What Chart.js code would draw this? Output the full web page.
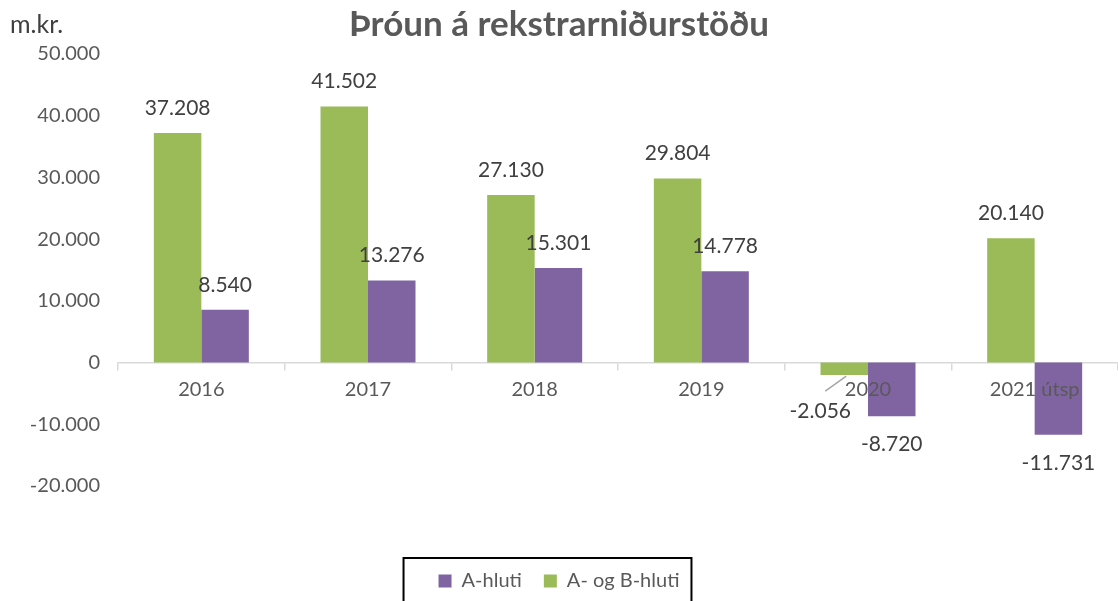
<!DOCTYPE html>
<html>
<head>
<meta charset="utf-8">
<script src="https://cdn.jsdelivr.net/npm/chart.js@4.4.0/dist/chart.umd.min.js"></script>
<style>
  html, body { margin: 0; padding: 0; background: #fff; }
  #wrap { width: 1118px; height: 601px; position: relative; }
</style>
</head>
<body>
<div id="wrap"><canvas id="myChart"></canvas></div>
<script>
const years = ['2016', '2017', '2018', '2019', '2020', '2021 útsp'];
const abHluti = [37208, 41502, 27130, 29804, -2056, 20140];
const aHluti = [8540, 13276, 15301, 14778, -8720, -11731];
const yTicks = [-20000, -10000, 0, 10000, 20000, 30000, 40000, 50000];

const FONT = 'Lato, "Open Sans", sans-serif';

function fmt(v) {
  const s = Math.abs(v).toString().replace(/\B(?=(\d{3})+(?!\d))/g, '.');
  return (v < 0 ? '-' : '') + s;
}

// values above / below each bar
const valueLabels = {
  id: 'valueLabels',
  afterDraw(chart) {
    const ctx = chart.ctx;
    ctx.save();
    ctx.font = '21px ' + FONT;
    ctx.fillStyle = '#404040';
    ctx.textAlign = 'center';
    ctx.textBaseline = 'middle';
    chart.data.datasets.forEach(function(ds, i) {
      chart.getDatasetMeta(i).data.forEach(function(bar, j) {
        const v = ds.data[j];
        let x = bar.x;
        let y = v >= 0 ? bar.y - 25 : bar.y + 28;
        if (v < 0 && Math.abs(v) < 5000) {
          // small negative: label pushed out with a leader line
          x = bar.x - 24;
          y = bar.y + 36;
          ctx.strokeStyle = '#a6a6a6';
          ctx.lineWidth = 1.5;
          ctx.beginPath();
          ctx.moveTo(bar.x + 2, bar.y + 1);
          ctx.lineTo(bar.x - 19, bar.y + 16);
          ctx.stroke();
        }
        ctx.fillText(fmt(v), x, y);
      });
    });
    ctx.restore();
  }
};

// unit label + legend frame
const extras = {
  id: 'extras',
  afterDraw(chart) {
    const ctx = chart.ctx;
    ctx.save();
    ctx.font = '25px ' + FONT;
    ctx.fillStyle = '#404040';
    ctx.textBaseline = 'middle';
    ctx.fillText('m.kr.', 10, 25);
    const lg = chart.legend;
    if (lg && lg.legendHitBoxes.length) {
      const boxes = lg.legendHitBoxes;
      const x0 = boxes[0].left - 35;
      const x1 = boxes[boxes.length - 1].left + boxes[boxes.length - 1].width + 12;
      const cy = boxes[0].top + boxes[0].height / 2;
      ctx.strokeStyle = '#000';
      ctx.lineWidth = 2;
      ctx.strokeRect(x0, cy - 23, x1 - x0, 80);
    }
    ctx.restore();
  }
};

const ctx = document.getElementById('myChart');
new Chart(ctx, {
  type: 'bar',
  data: {
    labels: years,
    datasets: [
      { label: 'A- og B-hluti', data: abHluti, backgroundColor: '#9BBB59' },
      { label: 'A-hluti', data: aHluti, backgroundColor: '#8064A2' }
    ]
  },
  options: {
    responsive: true,
    maintainAspectRatio: false,
    animation: false,
    devicePixelRatio: 1,
    categoryPercentage: 0.57,
    barPercentage: 1,
    layout: { padding: { left: 0, right: 0, top: 0, bottom: 0 } },
    scales: {
      x: {
        position: { y: 0 },
        grid: { drawOnChartArea: false, drawTicks: true, tickLength: 7, color: '#d9d9d9', lineWidth: 1.5 },
        border: { display: true, color: '#d9d9d9', width: 1.5 },
        ticks: { z: 1, color: '#595959', font: { family: FONT, size: 20 }, padding: 8 }
      },
      y: {
        min: -20000,
        max: 50000,
        afterBuildTicks(scale) {
          scale.ticks = yTicks.map(function(v) { return { value: v }; });
        },
        afterFit(scale) { scale.width = 118; },
        grid: { display: false },
        border: { display: false },
        ticks: {
          color: '#595959',
          font: { family: FONT, size: 20 },
          padding: 10,
          callback: function(v) { return fmt(v); }
        }
      }
    },
    plugins: {
      tooltip: { enabled: false },
      title: {
        display: true,
        text: 'Þróun á rekstrarniðurstöðu',
        color: '#595959',
        font: { family: FONT, size: 35, weight: 'bold' },
        padding: { top: 4, bottom: 8 }
      },
      legend: {
        position: 'bottom',
        reverse: true,
        title: { display: true, text: ' ', font: { size: 1 }, padding: { top: 62, bottom: 0 } },
        labels: {
          color: '#595959',
          font: { family: FONT, size: 20 },
          boxWidth: 13,
          boxHeight: 13,
          padding: 22
        }
      }
    }
  },
  plugins: [valueLabels, extras]
});
</script>
</body>
</html>
